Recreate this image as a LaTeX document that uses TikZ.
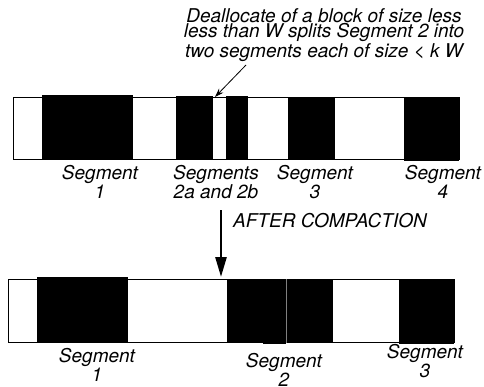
\documentclass[tikz,border=0pt]{standalone}
\usepackage{fontspec}
\setmainfont{TeX Gyre Heros}
\usetikzlibrary{arrows.meta}
\tikzset{
  blk/.style={fill=black, draw=none},
  bar/.style={draw=black, line width=0.8pt, fill=white},
  lbl/.style={font=\itshape\fontsize{19}{16}\selectfont, align=center, inner sep=0pt, anchor=base},
  note/.style={font=\itshape\fontsize{19}{15}\selectfont, align=center, inner sep=0pt, anchor=base},
}
\begin{document}
\begin{tikzpicture}[x=1pt,y=-1pt]
\useasboundingbox (0,0) rectangle (484,386);
% top bar
\draw[bar] (13,97) rectangle (459,159);
\fill[blk] (42,95) rectangle (133,159);
\fill[blk] (176,96) rectangle (213,159);
\fill[blk] (226,96) rectangle (248,159);
\fill[blk] (288,97) rectangle (335,159);
\fill[blk] (404,97) rectangle (459,161);
\draw[line width=0.8pt] (13,159) -- (459,159);
% note
\node[note] (note) at (324,57) {Deallocate of a block of size less\\less than W splits Segment 2 into\\two segments each of size \textless{} k W};
\coordinate (ns) at (246,65);
\coordinate (gap) at (215,97);
\draw[line width=0.8pt, -{Stealth[length=9pt,width=6pt]}] (ns) -- (gap);
% top labels
\node[lbl] (t1) at (100,198) {Segment\\1};
\node[lbl] (t2) at (216,198) {Segments\\2a and 2b};
\node[lbl] (t3) at (315,198) {Segment\\3};
\node[lbl] (t4) at (443,198) {Segment\\4};
% arrow
\coordinate (a1) at (221,210);
\coordinate (a2) at (221,277);
\draw[line width=2.6pt, -{Triangle[length=20pt,width=11pt]}] (a1) -- (a2);
\node[lbl, anchor=base west] (ac) at (233,227) {AFTER COMPACTION};
% bottom bar
\draw[bar] (8,279) rectangle (454,342);
\fill[blk] (37,277) rectangle (128,342);
\fill[blk] (227,279) rectangle (286,343);
\fill[blk] (263,279) rectangle (286,344);
\fill[blk] (286.6,279) rectangle (333,343);
\draw[gray, line width=0.5pt] (286.3,279) -- (286.3,343);
\fill[blk] (399,279) rectangle (454,344);
% bottom labels
\node[lbl] (b1) at (97,381) {Segment\\1};
\node[lbl] (b2) at (284,386) {Segment\\2};
\node[lbl] (b3) at (425,377) {Segment\\3};
\end{tikzpicture}
\end{document}
